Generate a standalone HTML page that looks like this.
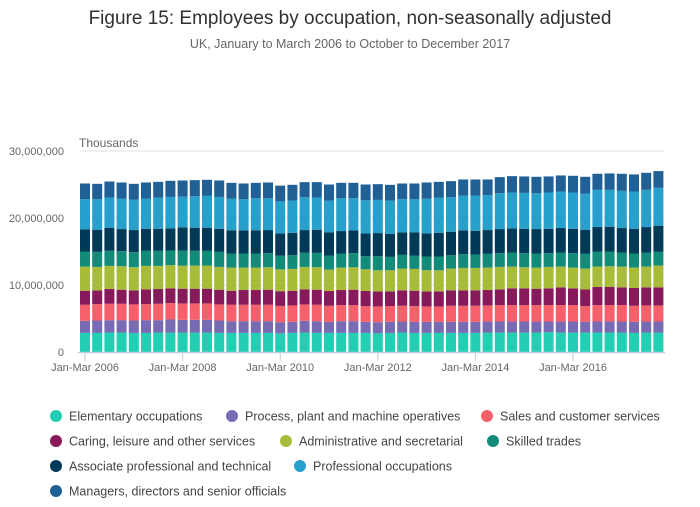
<!DOCTYPE html>
<html><head><meta charset="utf-8"><style>
body{margin:0;background:#fff;font-family:"Liberation Sans",sans-serif}
svg text{font-family:"Liberation Sans",sans-serif}
</style></head><body>
<svg id="c" width="700" height="502">
<text x="350" y="24" text-anchor="middle" font-size="19" fill="#323132">Figure 15: Employees by occupation, non-seasonally adjusted</text>
<text x="350" y="48" text-anchor="middle" font-size="12.5" fill="#666">UK, January to March 2006 to October to December 2017</text>
<text x="79" y="147" font-size="12" fill="#666">Thousands</text>
<g id="grid"></g><g id="bars"></g><g id="xaxis"></g><g id="legend"></g>
</svg>
<script>
const yTicks=[0,10000000,20000000,30000000];
const yTickLabels=["0","10,000,000","20,000,000","30,000,000"];
const xTickIdx=[0,8,16,24,32,40];
const xTickLabels=["Jan-Mar 2006","Jan-Mar 2008","Jan-Mar 2010","Jan-Mar 2012","Jan-Mar 2014","Jan-Mar 2016"];
const seriesNames=["Elementary occupations","Process, plant and machine operatives","Sales and customer services","Caring, leisure and other services","Administrative and secretarial","Skilled trades","Associate professional and technical","Professional occupations","Managers, directors and senior officials"];
const seriesColors=["#22cfb3","#776bb4","#f5606a","#871a5b","#a8bc3a","#128b79","#013a56","#27a0cc","#206095"];
const elem=[2850,2850,2900,2900,2850,2850,2900,2900,2900,2900,2900,2850,2850,2850,2850,2850,2780,2850,2900,2850,2850,2850,2850,2850,2800,2850,2900,2850,2850,2850,2850,2850,2850,2900,2900,2900,2900,2900,2950,2900,2900,2900,2900,2900,2900,2850,2900,2900];
const proc=[1800,1850,1850,1850,1850,1900,1850,1950,1900,1900,1900,1850,1750,1750,1750,1750,1650,1650,1750,1750,1650,1750,1750,1650,1650,1650,1650,1650,1650,1650,1650,1650,1650,1650,1650,1650,1650,1650,1600,1650,1650,1600,1650,1650,1650,1650,1650,1650];
const sales=[2400,2450,2450,2450,2400,2400,2450,2450,2450,2450,2450,2400,2450,2450,2450,2450,2450,2450,2450,2450,2400,2400,2400,2350,2350,2350,2350,2350,2300,2300,2400,2400,2400,2400,2450,2450,2450,2450,2450,2450,2450,2350,2450,2450,2450,2400,2400,2400];
const caring=[2100,2050,2200,2100,2100,2200,2200,2200,2200,2200,2200,2200,2100,2200,2200,2250,2200,2200,2250,2250,2200,2250,2300,2250,2250,2200,2300,2300,2250,2250,2300,2300,2300,2300,2350,2500,2500,2450,2500,2650,2500,2500,2700,2700,2650,2650,2700,2700];
const admin=[3600,3500,3450,3500,3450,3500,3450,3450,3450,3450,3450,3400,3450,3350,3350,3350,3250,3250,3350,3350,3200,3350,3350,3250,3150,3150,3250,3250,3150,3150,3250,3350,3350,3350,3350,3250,3150,3150,3200,3100,3100,3100,3050,3100,3100,3050,3100,3250];
const skilled=[2250,2250,2250,2250,2250,2250,2250,2200,2250,2200,2200,2250,2100,2100,2100,2100,2050,2050,2100,2150,2100,2100,2100,1950,2100,2000,2050,2000,2050,2050,2000,2050,2000,2050,2050,2100,2100,2100,2050,2100,2150,2200,2200,2200,2100,2100,2100,2050];
const assoc=[3300,3300,3450,3300,3300,3300,3300,3300,3450,3450,3450,3450,3450,3450,3450,3450,3300,3350,3400,3450,3450,3350,3400,3400,3450,3450,3350,3450,3450,3550,3500,3550,3550,3550,3600,3600,3650,3650,3650,3650,3650,3600,3700,3700,3650,3700,3800,3900];
const prof=[4500,4550,4500,4550,4550,4500,4650,4700,4600,4700,4750,4750,4750,4650,4800,4750,4800,4800,4900,4800,4750,4900,4800,4950,4950,4950,4950,4950,5200,5250,5150,5200,5250,5200,5350,5350,5350,5350,5400,5450,5400,5400,5550,5500,5550,5550,5550,5650];
const managers=[2350,2300,2400,2400,2350,2400,2350,2400,2400,2400,2400,2450,2350,2350,2300,2350,2350,2350,2250,2300,2400,2300,2300,2350,2350,2350,2350,2350,2400,2350,2400,2400,2400,2350,2400,2450,2450,2450,2400,2400,2500,2500,2400,2450,2550,2550,2550,2500];
const series=[elem,proc,sales,caring,admin,skilled,assoc,prof,managers];
const NS="http://www.w3.org/2000/svg";
const y0=352,yTop=151,x0=80,pitch=12.2,bw=10;
const yScale=v=>y0-(v/30000000)*(y0-yTop);
const xScale=i=>x0+i*pitch;
function mk(t,a,p){const e=document.createElementNS(NS,t);for(const k in a)e.setAttribute(k,a[k]);p.appendChild(e);return e;}
const grid=document.getElementById('grid');
yTicks.forEach((v,i)=>{
 if(v>0){const l=mk('line',{x1:80,x2:665,y1:yScale(v),y2:yScale(v),stroke:'#e3e3e3'},grid);
 
 }
 const t=mk('text',{x:64,y:yScale(v)+4,'text-anchor':'end','font-size':11,fill:'#666'},grid);
 t.textContent=yTickLabels[i];
 
 
});
const bars=document.getElementById('bars');
for(let i=0;i<elem.length;i++){
 let cum=0;
 series.forEach((s,k)=>{
  const yA=yScale(cum*1000),yB=yScale((cum+s[i])*1000);cum+=s[i];
  const r=mk('rect',{x:xScale(i),y:yB,width:bw,height:yA-yB,fill:seriesColors[k]},bars);
  
  
 });
}
const xa=document.getElementById('xaxis');
const ax=mk('line',{x1:78,x2:665,y1:y0+0.5,y2:y0+0.5,stroke:'#c3cedd','stroke-width':1.5},xa);


xTickIdx.forEach((idx,i)=>{
 const cx=xScale(idx)+bw/2;
 const tk=mk('line',{x1:cx,x2:cx,y1:y0,y2:y0+9,stroke:'#c3cedd'},xa);
 
 
 const t=mk('text',{x:cx,y:y0+19,'text-anchor':'middle','font-size':11,fill:'#666'},xa);
 t.textContent=xTickLabels[i];
 
 
});
const lg=document.getElementById('legend');
const legPos=[[56,416],[232,416],[487,416],[56,441],[286,441],[493,441],[56,466],[300,466],[56,491]];
seriesNames.forEach((n,k)=>{
 const g=mk('g',{},lg);
 
 
 mk('circle',{cx:legPos[k][0],cy:legPos[k][1],r:6,fill:seriesColors[k]},g);
 const t=mk('text',{x:legPos[k][0]+13,y:legPos[k][1]+4.5,'font-size':12.5,fill:'#444'},g);
 t.textContent=n;
});
</script>
</body></html>
